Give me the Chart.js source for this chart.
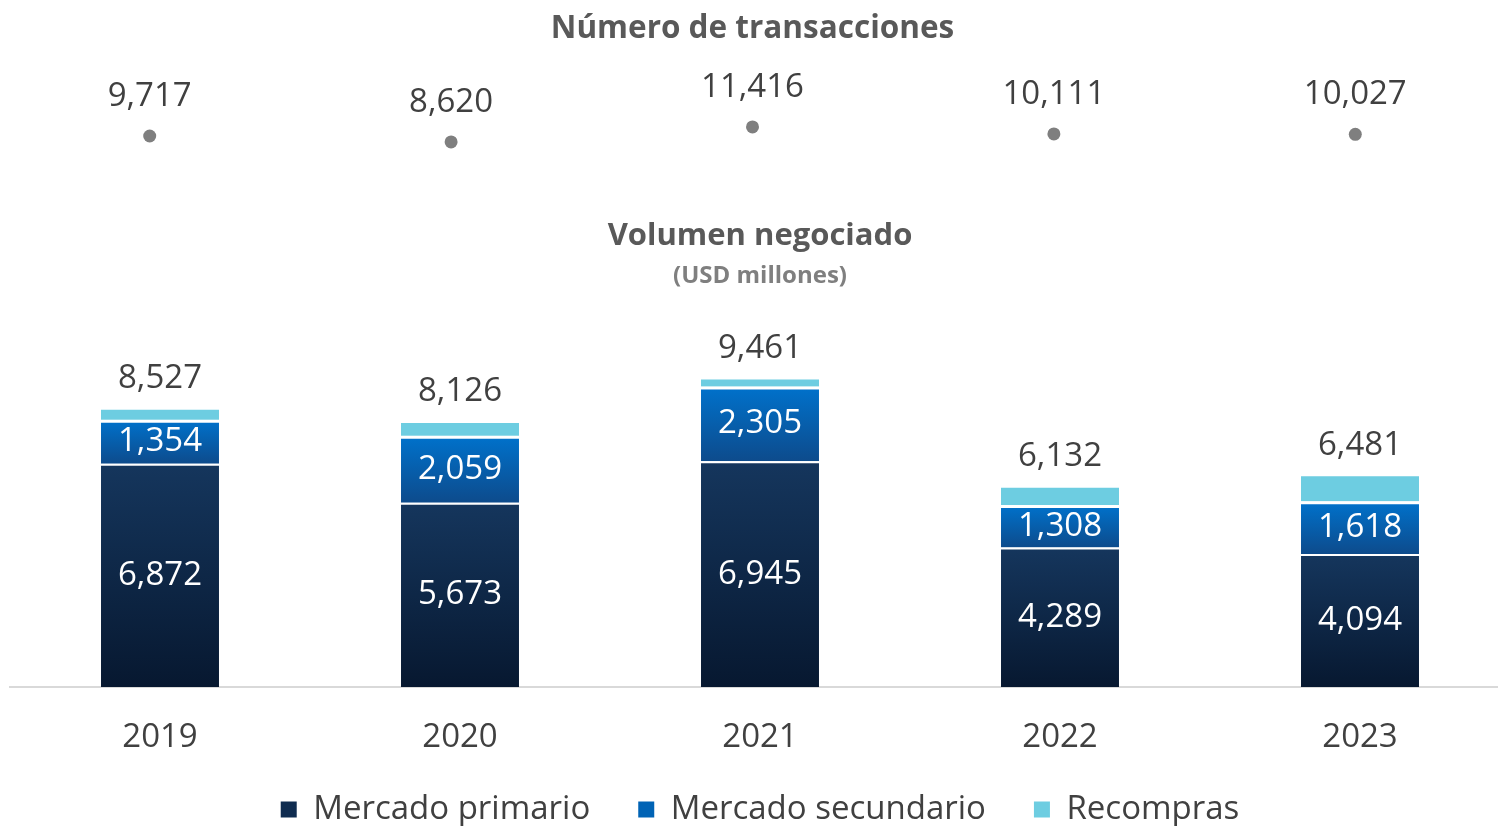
<!DOCTYPE html>
<html><head><meta charset="utf-8">
<script src="https://cdn.jsdelivr.net/npm/chart.js@4.4.1/dist/chart.umd.min.js"></script>
<style>
html,body{margin:0;padding:0;width:1498px;height:826px;overflow:hidden;background:#fff;}
#top{position:absolute;left:-1px;top:0;}
#bot{position:absolute;left:0;top:200px;}
</style></head><body>
<canvas id="top" width="1507" height="200"></canvas>
<canvas id="bot" width="1520" height="636"></canvas>
<script>
const years = ['2019', '2020', '2021', '2022', '2023'];
const transacciones = [9717, 8620, 11416, 10111, 10027];
const mercadoPrimario = [6872, 5673, 6945, 4289, 4094];
const mercadoSecundario = [1354, 2059, 2305, 1308, 1618];
const recompras = [301, 394, 211, 535, 769];
const totales = [8527, 8126, 9461, 6132, 6481];

const FONT = "'Open Sans', 'Noto Sans', sans-serif";
const fmt = v => v.toLocaleString('en-US');

// ---------- top: transactions ----------
const topLabels = {
  id: 'topLabels',
  afterDatasetsDraw(chart) {
    const ctx = chart.ctx;
    const meta = chart.getDatasetMeta(0);
    ctx.save();
    ctx.font = "33px " + FONT;
    ctx.fillStyle = '#404040';
    ctx.textAlign = 'center';
    ctx.textBaseline = 'middle';
    meta.data.forEach((pt, i) => {
      ctx.fillText(fmt(chart.data.datasets[0].data[i]), pt.x, pt.y - 39.5);
    });
    ctx.restore();
  }
};

new Chart(document.getElementById('top'), {
  type: 'line',
  data: {
    labels: years,
    datasets: [{
      label: 'Número de transacciones',
      data: transacciones,
      showLine: false,
      pointRadius: 6.5,
      pointHoverRadius: 6.5,
      pointBackgroundColor: '#7f7f7f',
      pointBorderWidth: 0
    }]
  },
  options: {
    responsive: false,
    animation: false,
    layout: { autoPadding: false, padding: { left: 0, right: 0, top: 0, bottom: 12 } },
    scales: {
      x: { display: false, offset: true },
      y: { display: false, min: 0, max: 20000 }
    },
    plugins: {
      legend: { display: false },
      tooltip: { enabled: false },
      title: {
        display: true,
        text: 'Número de transacciones',
        color: '#595959',
        font: { family: FONT, size: 31.5, weight: 'bold', lineHeight: 1.2 },
        padding: { top: 10.1, bottom: 33.1 }
      }
    }
  },
  plugins: [topLabels]
});

// ---------- bottom: volume ----------
function grad(topColor, bottomColor, fallback) {
  return (c) => {
    const chart = c.chart;
    if (c.type !== 'data' || !chart.chartArea || !chart.scales.y) return fallback;
    const y = chart.scales.y;
    let base = 0;
    for (let d = 0; d < c.datasetIndex; d++) base += chart.data.datasets[d].data[c.dataIndex];
    const v = chart.data.datasets[c.datasetIndex].data[c.dataIndex];
    const yTop = y.getPixelForValue(base + v);
    const yBot = y.getPixelForValue(base);
    if (!isFinite(yTop) || !isFinite(yBot) || yTop === yBot) return fallback;
    const g = chart.ctx.createLinearGradient(0, yTop, 0, yBot);
    g.addColorStop(0, topColor);
    g.addColorStop(1, bottomColor);
    return g;
  };
}

const barLabels = {
  id: 'barLabels',
  afterDatasetsDraw(chart) {
    const ctx = chart.ctx;
    ctx.save();
    ctx.font = "33px " + FONT;
    ctx.textAlign = 'center';
    ctx.textBaseline = 'middle';
    [0, 1].forEach(di => {
      const meta = chart.getDatasetMeta(di);
      ctx.fillStyle = '#ffffff';
      meta.data.forEach((el, i) => {
        ctx.fillText(fmt(chart.data.datasets[di].data[i]), el.x, (el.y + el.base) / 2);
      });
    });
    const topMeta = chart.getDatasetMeta(2);
    ctx.fillStyle = '#404040';
    topMeta.data.forEach((el, i) => {
      ctx.fillText(fmt(totales[i]), el.x, el.y - 31);
    });
    ctx.restore();
  }
};

const legendColors = ['#0f2c50', '#0063b5', '#6dcde1'];

new Chart(document.getElementById('bot'), {
  type: 'bar',
  data: {
    labels: years,
    datasets: [
      {
        label: 'Mercado primario',
        data: mercadoPrimario,
        backgroundColor: grad('#15365d', '#071830', legendColors[0]),
        borderColor: '#ffffff',
        borderWidth: { top: 2, left: 0, right: 0, bottom: 0 }
      },
      {
        label: 'Mercado secundario',
        data: mercadoSecundario,
        backgroundColor: grad('#0072cc', '#0d4b8c', legendColors[1]),
        borderColor: '#ffffff',
        borderWidth: { top: 3, left: 0, right: 0, bottom: 0 }
      },
      {
        label: 'Recompras',
        data: recompras,
        backgroundColor: '#6dcde1',
        borderWidth: 0
      }
    ]
  },
  options: {
    responsive: false,
    animation: false,
    categoryPercentage: 1,
    barPercentage: 0.3933,
    layout: { padding: { left: 10, right: 10, top: 0, bottom: 0 } },
    scales: {
      x: {
        stacked: true,
        grid: { display: false, drawTicks: false },
        border: { display: true, color: '#d9d9d9', width: 2 },
        ticks: { color: '#404040', padding: 34, font: { family: FONT, size: 33, lineHeight: 1.0 } },
        afterFit(scale) { scale.height = 65; }
      },
      y: { display: false, stacked: true, min: 0, max: 12000 }
    },
    plugins: {
      tooltip: { enabled: false },
      title: {
        display: true,
        text: 'Volumen negociado',
        color: '#595959',
        font: { family: FONT, size: 31, weight: 'bold', lineHeight: 1.2 },
        padding: { top: 17.4, bottom: 7.0 }
      },
      subtitle: {
        display: true,
        text: '(USD millones)',
        color: '#7f7f7f',
        font: { family: FONT, size: 24, weight: 'bold', lineHeight: 1.2 },
        padding: { top: 0, bottom: 6.6 }
      },
      legend: {
        display: true,
        position: 'bottom',
        title: { display: true, text: '', font: { family: FONT, size: 10, lineHeight: 1 }, padding: { top: 0, bottom: -17 } },
        labels: {
          color: '#404040',
          boxWidth: 16,
          boxHeight: 16,
          padding: 48,
          font: { family: FONT, size: 33 },
          generateLabels(chart) {
            return chart.data.datasets.map((ds, i) => ({
              text: ds.label,
              fillStyle: legendColors[i],
              strokeStyle: legendColors[i],
              lineWidth: 0,
              hidden: false,
              datasetIndex: i,
              fontColor: '#404040'
            }));
          }
        }
      }
    }
  },
  plugins: [barLabels]
});
</script>
</body></html>
